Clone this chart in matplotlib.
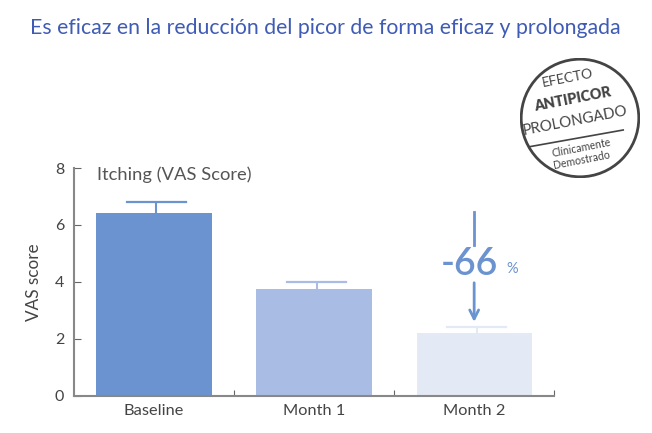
import matplotlib.pyplot as plt
from matplotlib.patches import Circle

# Itching VAS score over time
categories = ['Baseline', 'Month 1', 'Month 2']
vas_score = [6.42, 3.75, 2.22]
vas_error = [0.38, 0.25, 0.2]
bar_colors = ['#6a93cf', '#a9bde4', '#e3e9f5']
reduction_label = '-66'

title = 'Es eficaz en la reducción del picor de forma eficaz y prolongada'

plt.rcParams['font.family'] = ['Lato', 'DejaVu Sans']

fig = plt.figure(figsize=(6.52, 4.33), dpi=100)
ax = fig.add_axes([0.1135, 0.0855, 0.7365, 0.5265])

x = range(len(categories))
ax.bar(x, vas_score, width=0.72, color=bar_colors, zorder=2)
for i in x:
    ax.errorbar(i + 0.015, vas_score[i] + vas_error[i] / 2, yerr=vas_error[i] / 2,
                fmt='none', ecolor=bar_colors[i], elinewidth=1.5,
                capsize=0, zorder=1)
    ax.plot([i - 0.17, i + 0.2], [vas_score[i] + vas_error[i]] * 2,
            color=bar_colors[i], lw=1.6, zorder=1)

ax.set_xlim(-0.5, 2.5)
ax.set_ylim(0, 8)
ax.set_yticks([0, 2, 4, 6, 8])
ax.set_xticks([0.5, 1.5, 2.5], minor=False)
ax.set_xticklabels([])
ax.set_xticks(list(x), minor=True)
ax.set_xticklabels(categories, minor=True)
ax.tick_params(axis='x', which='minor', length=0, pad=6, labelsize=11.8,
               labelcolor='#444444')
ax.tick_params(axis='x', which='major', direction='in', length=4,
               color='#666666')
ax.tick_params(axis='y', direction='in', length=5, color='#666666',
               labelsize=11.5, labelcolor='#444444', pad=7)
for side in ['top', 'right']:
    ax.spines[side].set_visible(False)
for side in ['left', 'bottom']:
    ax.spines[side].set_color('#888888')
    ax.spines[side].set_linewidth(1.5)
ax.set_ylabel('VAS score', fontsize=12.3, color='#444444', labelpad=9)

ax.text(-0.355, 7.75, 'Itching (VAS Score)', fontsize=13.2, color='#555555',
        va='center')

# reduction annotation over Month 2
ax.plot([2, 2], [6.46, 5.3], color='#6a93cf', lw=2)
ax.text(1.97, 4.62, reduction_label, fontsize=27, color='#6a93cf',
        ha='center', va='center', fontweight='semibold')
ax.text(2.235, 4.45, '%', fontsize=10.5, color='#6a93cf', ha='center',
        va='center')
ax.annotate('', xy=(2, 2.5), xytext=(2, 4.07),
            arrowprops=dict(arrowstyle='->', color='#6a93cf', lw=2,
                            mutation_scale=16))

fig.text(0.046, 0.935, title, fontsize=15.3, color='#3f5bb5', va='center')

# badge
bax = fig.add_axes([520 / 652, (433 - 178) / 433, 120 / 652, 120 / 433])
bax.set_xlim(-1, 1)
bax.set_ylim(-1, 1)
bax.set_aspect('equal')
bax.axis('off')
bax.add_patch(Circle((0, 0), 0.98, fill=False, ec='#444444', lw=2))
rot = 11
badge = dict(color='#444444', ha='center', va='center', rotation=rot)
bax.text(-0.2, 0.67, 'EFECTO', fontsize=10, **badge)
bax.text(-0.12, 0.32, 'ANTIPICOR', fontsize=10.3, fontweight='heavy', **badge)
bax.text(-0.08, -0.05, 'PROLONGADO', fontsize=10.8, **badge)
bax.plot([-0.85, 0.72], [-0.48, -0.2], color='#444444', lw=1.2)
bax.text(0.03, -0.5, 'Clínicamente', fontsize=7.6, **badge)
bax.text(0.03, -0.7, 'Demostrado', fontsize=7.6, **badge)

fig.savefig('out.png', dpi=100)
